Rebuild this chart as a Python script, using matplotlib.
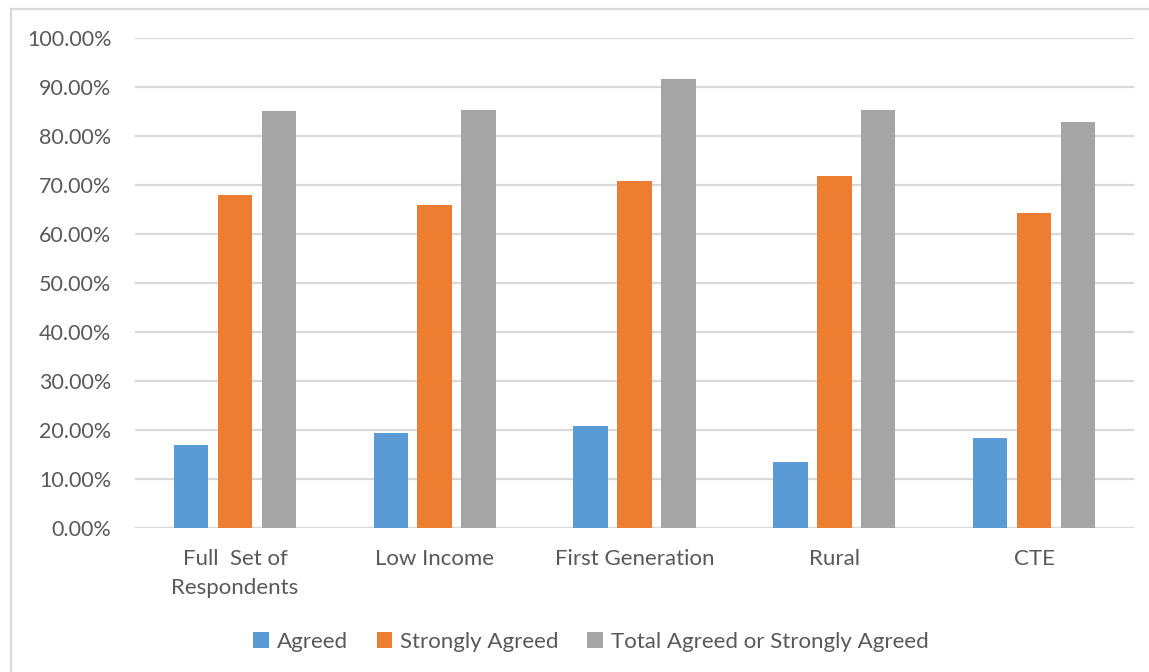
import matplotlib
matplotlib.use("Agg")
import matplotlib.pyplot as plt
from matplotlib.ticker import PercentFormatter
from matplotlib.patches import Patch
from matplotlib.lines import Line2D
import numpy as np

# Survey response shares by respondent group
categories = ["Full  Set of\nRespondents", "Low Income", "First Generation", "Rural", "CTE"]
agreed = [16.9, 19.4, 20.8, 13.5, 18.5]
strongly_agreed = [67.9, 65.9, 70.8, 71.9, 64.3]
total_agreed = [85.1, 85.3, 91.6, 85.3, 82.8]
series_names = ["Agreed", "Strongly Agreed", "Total Agreed or Strongly Agreed"]
y_ticks = [0, 10, 20, 30, 40, 50, 60, 70, 80, 90, 100]

colors = ["#5B9BD5", "#ED7D31", "#A5A5A5"]
text_color = "#595959"
grid_color = "#D9D9D9"

plt.rcParams["font.family"] = ["Lato", "DejaVu Sans"]

W, H = 1149, 672
fig = plt.figure(figsize=(W / 100, H / 100), dpi=100)
ax = fig.add_axes([135 / W, 1 - 528.3 / H, 999 / W, 490.3 / H])

x = np.arange(len(categories))
width = 0.1725
step = 0.22
for i, (vals, c) in enumerate(zip([agreed, strongly_agreed, total_agreed], colors)):
    ax.bar(x + (i - 1) * step, vals, width=width, color=c, zorder=3)

ax.set_xlim(-0.5, len(categories) - 0.5)
ax.set_ylim(0, 100)
ax.set_yticks(y_ticks)
ax.yaxis.set_major_formatter(PercentFormatter(decimals=2))
ax.set_xticks(x)
ax.set_xticklabels(categories, linespacing=1.55)

ax.grid(axis="y", color=grid_color, linewidth=1.6, zorder=0)
ax.set_axisbelow(True)
for s in ax.spines.values():
    s.set_visible(False)
ax.tick_params(axis="y", length=0, colors=text_color, labelsize=15.5, pad=17)
ax.tick_params(axis="x", length=0, colors=text_color, labelsize=16, pad=15)
for lab in ax.get_xticklabels() + ax.get_yticklabels():
    lab.set_color(text_color)

handles = [Patch(facecolor=c, edgecolor="none") for c in colors]
fig.legend(handles, series_names, loc="center", bbox_to_anchor=(591 / W, 1 - 642 / H),
           ncol=3, frameon=False, fontsize=16, handlelength=0.7, handleheight=0.7,
           handletextpad=0.35, columnspacing=1.3, labelcolor=text_color)

# Outer chart border (top and left edges visible)
fig.add_artist(Line2D([10.5 / W, 1.0], [1 - 8.5 / H, 1 - 8.5 / H], color=grid_color,
                      linewidth=1.6, transform=fig.transFigure))
fig.add_artist(Line2D([10.5 / W, 10.5 / W], [0.0, 1 - 8.5 / H], color=grid_color,
                      linewidth=1.6, transform=fig.transFigure))

fig.savefig("out.png", dpi=100, facecolor="white")
